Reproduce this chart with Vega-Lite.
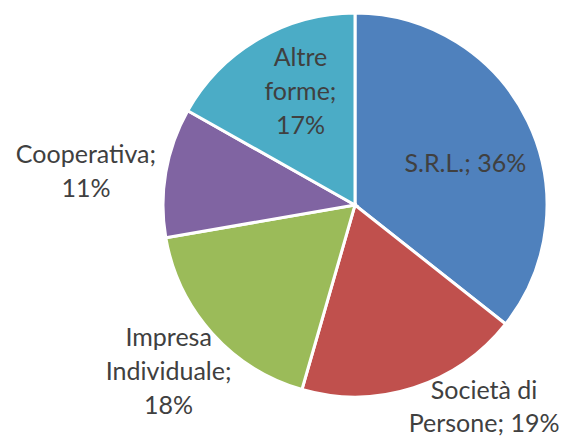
{
  "$schema": "https://vega.github.io/schema/vega-lite/v6.json",
  "width": 384,
  "height": 384,
  "autosize": {"type": "none"},
  "padding": {"left": 163, "top": 13, "right": 21, "bottom": 41},
  "background": "white",
  "config": {"view": {"stroke": null}},
  "data": {
    "values": [
      {"cat": "S.R.L.", "value": 36, "ord": 1, "label": "S.R.L.; 36%"},
      {"cat": "Società di Persone", "value": 19, "ord": 2, "label": "Società di\nPersone; 19%"},
      {"cat": "Impresa Individuale", "value": 18, "ord": 3, "label": "Impresa\nIndividuale;\n18%"},
      {"cat": "Cooperativa", "value": 11, "ord": 4, "label": "Cooperativa;\n11%"},
      {"cat": "Altre forme", "value": 17, "ord": 5, "label": "Altre\nforme;\n17%"}
    ]
  },
  "encoding": {
    "theta": {"field": "value", "type": "quantitative", "stack": true},
    "order": {"field": "ord", "type": "quantitative"}
  },
  "layer": [
    {
      "mark": {"type": "arc", "stroke": "white", "strokeWidth": 3},
      "encoding": {
        "color": {
          "field": "cat",
          "type": "nominal",
          "scale": {
            "domain": ["S.R.L.", "Società di Persone", "Impresa Individuale", "Cooperativa", "Altre forme"],
            "range": ["#4F81BD", "#C0504D", "#9BBB59", "#8064A2", "#4BACC6"]
          },
          "legend": null
        }
      }
    },
    {
      "mark": {"type": "text", "font": "Lato", "fontSize": 25, "color": "#404040", "lineBreak": "\n", "lineHeight": 34, "radius": 117, "dx": 5, "dy": 10},
      "encoding": {"text": {"condition": {"test": "datum.cat === 'S.R.L.'", "field": "label"}, "value": ""}}
    },
    {
      "mark": {"type": "text", "font": "Lato", "fontSize": 25, "color": "#404040", "lineBreak": "\n", "lineHeight": 33, "radius": 242, "dx": 55, "dy": -44},
      "encoding": {"text": {"condition": {"test": "datum.cat === 'Società di Persone'", "field": "label"}, "value": ""}}
    },
    {
      "mark": {"type": "text", "font": "Lato", "fontSize": 25, "color": "#404040", "lineBreak": "\n", "lineHeight": 34, "radius": 253, "dx": 2, "dy": -36},
      "encoding": {"text": {"condition": {"test": "datum.cat === 'Impresa Individuale'", "field": "label"}, "value": ""}}
    },
    {
      "mark": {"type": "text", "font": "Lato", "fontSize": 25, "color": "#404040", "lineBreak": "\n", "lineHeight": 34, "radius": 270, "dx": -3, "dy": -4},
      "encoding": {"text": {"condition": {"test": "datum.cat === 'Cooperativa'", "field": "label"}, "value": ""}}
    },
    {
      "mark": {"type": "text", "font": "Lato", "fontSize": 25, "color": "#404040", "lineBreak": "\n", "lineHeight": 34, "radius": 126, "dx": 9, "dy": -38},
      "encoding": {"text": {"condition": {"test": "datum.cat === 'Altre forme'", "field": "label"}, "value": ""}}
    }
  ]
}
